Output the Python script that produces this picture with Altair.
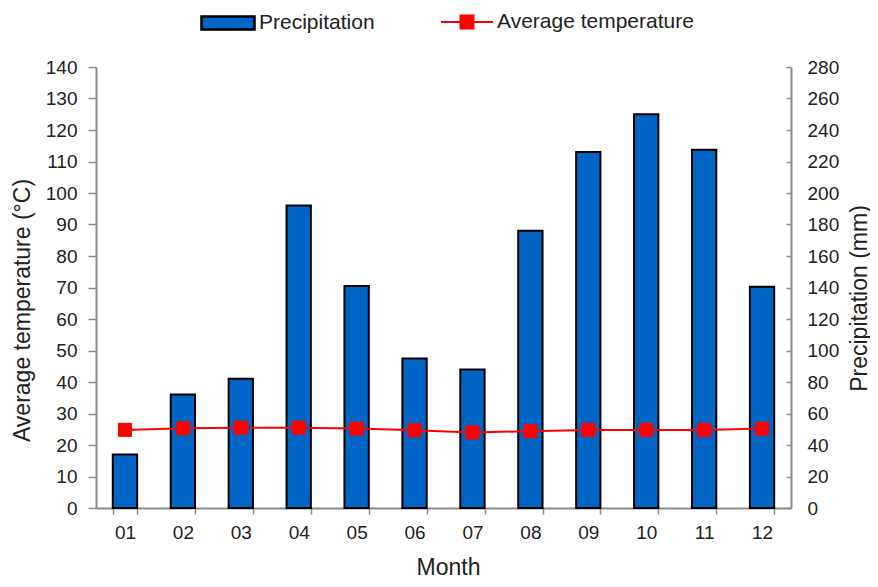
import altair as alt
import pandas as pd

months = ["01", "02", "03", "04", "05", "06", "07", "08", "09", "10", "11", "12"]
precipitation = [34, 72, 82, 192, 141, 95, 88, 176, 226, 250, 227.5, 140.5]
temperature = [24.8, 25.3, 25.5, 25.5, 25.2, 24.7, 24.0, 24.4, 24.8, 24.8, 24.8, 25.2]
temp_ticks = list(range(0, 141, 10))
precip_ticks = list(range(0, 281, 20))

df = pd.DataFrame({"Month": months, "Precip": precipitation, "Temp": temperature})

FONT = "Liberation Sans"
AXIS_GRAY = "#8a8a8a"
LABEL_COLOR = "#222222"

x_enc = alt.X(
    "Month:N",
    sort=months,
    scale=alt.Scale(paddingInner=0.58, paddingOuter=0.29),
    axis=alt.Axis(
        title="Month",
        labelAngle=0,
        tickBand="extent",
        tickSize=6,
        labelPadding=9,
        titleX=352,
        titleY=59,
        titleBaseline="middle",
        titleAlign="center",
    ),
)

bars = (
    alt.Chart(df)
    .transform_calculate(series="'Precipitation'")
    .mark_bar(stroke="black", strokeWidth=2)
    .encode(
        x=x_enc,
        y=alt.Y(
            "Precip:Q",
            scale=alt.Scale(domain=[0, 280], nice=False),
            axis=alt.Axis(
                orient="right",
                values=precip_ticks,
                title="Precipitation (mm)",
                ticks=False,
                labelPadding=16,
                titleAngle=270,
                titleX=68,
                titleY=231,
                titleAlign="center",
                titleBaseline="middle",
            ),
        ),
        fill=alt.Fill(
            "series:N",
            scale=alt.Scale(domain=["Precipitation"], range=["#0066c6"]),
            legend=alt.Legend(
                title=None,
                orient="none",
                legendX=104,
                legendY=-72,
                padding=0,
                symbolType="M-1,-0.245L1,-0.245L1,0.245L-1,0.245Z",
                symbolSize=2809,
                symbolStrokeColor="black",
                symbolStrokeWidth=2.5,
                labelOffset=3,
                labelLimit=400,
            ),
        ),
    )
)

# inward-pointing ticks on the right axis
right_ticks = (
    alt.Chart(df)
    .mark_bar(opacity=0)
    .encode(
        x=alt.X("Month:N", sort=months),
        y=alt.Y(
            "Precip:Q",
            scale=alt.Scale(domain=[0, 280], nice=False),
            axis=alt.Axis(
                orient="right",
                values=precip_ticks,
                title=None,
                labels=False,
                domain=False,
                ticks=True,
                tickSize=5,
                offset=-5,
            ),
        ),
    )
)

temp_y = alt.Y(
    "Temp:Q",
    scale=alt.Scale(domain=[0, 140], nice=False),
    axis=alt.Axis(
        orient="left",
        values=temp_ticks,
        title="Average temperature (°C)",
        tickSize=8,
        labelPadding=11,
        titleAngle=270,
        titleX=-74,
        titleY=243,
        titleAlign="center",
        titleBaseline="middle",
    ),
)

line = (
    alt.Chart(df)
    .mark_line(color="#ff0000", strokeWidth=2)
    .encode(x=alt.X("Month:N", sort=months), y=temp_y)
)

squares = (
    alt.Chart(df)
    .transform_calculate(series="'Average temperature'")
    .mark_square(size=196, opacity=1)
    .encode(
        x=alt.X("Month:N", sort=months),
        y=temp_y,
        fill=alt.Fill(
            "series:N",
            scale=alt.Scale(domain=["Average temperature"], range=["#ff0000"]),
            legend=alt.Legend(
                title=None,
                orient="none",
                legendX=344,
                legendY=-72,
                padding=0,
                symbolType="M-1,0L1,0M-0.25,-0.25L0.25,-0.25L0.25,0.25L-0.25,0.25Z",
                symbolSize=2704,
                symbolStrokeColor="#ff0000",
                symbolStrokeWidth=2,
                labelOffset=3,
                labelLimit=400,
            ),
        ),
    )
)

temp_layer = alt.layer(line, squares)

chart = (
    alt.layer(bars, right_ticks, temp_layer)
    .resolve_scale(y="independent", fill="independent")
    .resolve_legend(fill="independent")
    .properties(
        width=695,
        height=441,
        autosize=alt.AutoSizeParams(type="none"),
        padding={"left": 88, "top": 59, "right": 79, "bottom": 71},
    )
    .configure_view(stroke=None)
    .configure_axis(
        grid=False,
        domainColor=AXIS_GRAY,
        domainWidth=2,
        tickColor=AXIS_GRAY,
        tickWidth=1.5,
        labelFont=FONT,
        labelFontSize=19,
        labelColor=LABEL_COLOR,
        titleFont=FONT,
        titleFontSize=23,
        titleFontWeight="normal",
        titleColor=LABEL_COLOR,
    )
    .configure_legend(
        labelFont=FONT,
        labelFontSize=21,
        labelColor=LABEL_COLOR,
    )
)

chart.save("out.html", embed_options={"renderer": "svg", "actions": False})
